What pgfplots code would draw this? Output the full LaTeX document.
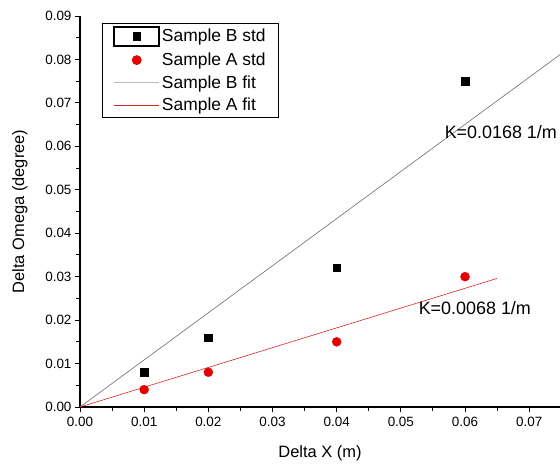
\documentclass[border=0pt]{standalone}
\usepackage{fontspec}
\setmainfont{Liberation Sans}
\usepackage{pgfplots}
\pgfplotsset{compat=1.18}

\definecolor{fitB}{rgb}{0.42,0.42,0.42}
\definecolor{fitBlegend}{rgb}{0.72,0.72,0.72}
\definecolor{fitA}{rgb}{0.85,0.15,0.15}
\definecolor{ptA}{rgb}{0.90,0.0,0.0}

\pgfplotsset{
  boxedmark/.style={legend image code/.code={%
    \draw[black, line width=1.5bp] (0bp,-9.5bp) rectangle (45bp,9.5bp);
    \draw[mark repeat=2, mark phase=2, ##1] plot coordinates {(0bp,0bp) (22.5bp,0bp) (45bp,0bp)};}},
  plainmark/.style={legend image code/.code={%
    \draw[mark repeat=2, mark phase=2, ##1] plot coordinates {(0bp,0bp) (22.5bp,0bp) (45bp,0bp)};}},
  fitlineB/.style={legend image code/.code={\draw[fitBlegend, line width=0.7bp] (0bp,0bp) -- (45bp,0bp);}},
  fitlineA/.style={legend image code/.code={\draw[fitA, line width=0.7bp] (0bp,0bp) -- (45bp,0bp);}},
}

\begin{document}
\begin{tikzpicture}
\begin{axis}[
  scale only axis, width=480bp, height=391bp,
  xmin=0, xmax=0.0748, ymin=0, ymax=0.09,
  axis lines=left, axis line style={-, line width=1.1bp},
  xtick={0,0.01,...,0.07}, ytick={0,0.01,...,0.09},
  scaled ticks=false,
  minor tick num=1,
  tick align=outside, tick style={black, line width=0.9bp},
  major tick length=5bp, minor tick length=3.5bp,
  /pgf/number format/.cd, fixed, fixed zerofill, precision=2, assume math mode=true, /pgfplots/.cd,
  tick label style={font=\fontsize{13.5}{15}\selectfont},
  xticklabel style={yshift=-2bp},
  xlabel={Delta X (m)}, ylabel={Delta Omega (degree)},
  every axis x label/.style={at={(rel axis cs:0.5,0)}, yshift=-46bp, anchor=center,
    font=\fontsize{16.5}{19}\selectfont},
  every axis y label/.style={at={(rel axis cs:0,0.5)}, xshift=-60bp, anchor=center, rotate=90,
    font=\fontsize{16.5}{19}\selectfont},
  clip=false,
  legend cell align=left,
  legend style={at={(0.046,0.983)}, anchor=north west, draw=black, line width=0.8bp,
    text=black, font=\fontsize{17.5}{19}\selectfont, row sep=4.5bp,
    inner xsep=11bp, inner ysep=3bp,
    /tikz/every even column/.append style={column sep=8bp}},
]
\addlegendimage{only marks, mark=square*, mark size=3.7bp, black, boxedmark}
\addlegendentry{Sample B std}
\addlegendimage{only marks, mark=*, mark size=4.5bp, ptA, plainmark}
\addlegendentry{Sample A std}
\addlegendimage{fitlineB}
\addlegendentry{Sample B fit}
\addlegendimage{fitlineA}
\addlegendentry{\textcolor{black}{Sample A fit}}

\addplot[forget plot, only marks, mark=square*, mark size=3.7bp, black]
  coordinates {(0.01,0.008) (0.02,0.016) (0.04,0.032) (0.06,0.075)};
\addplot[forget plot, only marks, mark=*, mark size=4.5bp, ptA]
  coordinates {(0.01,0.004) (0.02,0.008) (0.04,0.015) (0.06,0.030)};
\addplot[forget plot, no marks, fitB, line width=0.6bp]
  coordinates {(0,0) (0.0748,0.0811)};
\addplot[forget plot, no marks, fitA, line width=0.6bp]
  coordinates {(0,0) (0.065,0.0296)};
\node[font=\fontsize{18}{20}\selectfont] at (axis cs:0.06558,0.06337) {K=0.0168 1/m};
\node[font=\fontsize{18}{20}\selectfont] at (axis cs:0.06153,0.02279) {K=0.0068 1/m};
\end{axis}
\pgfresetboundingbox
\path (-80bp,-59bp) rectangle (480bp,407bp);
\end{tikzpicture}
\end{document}
